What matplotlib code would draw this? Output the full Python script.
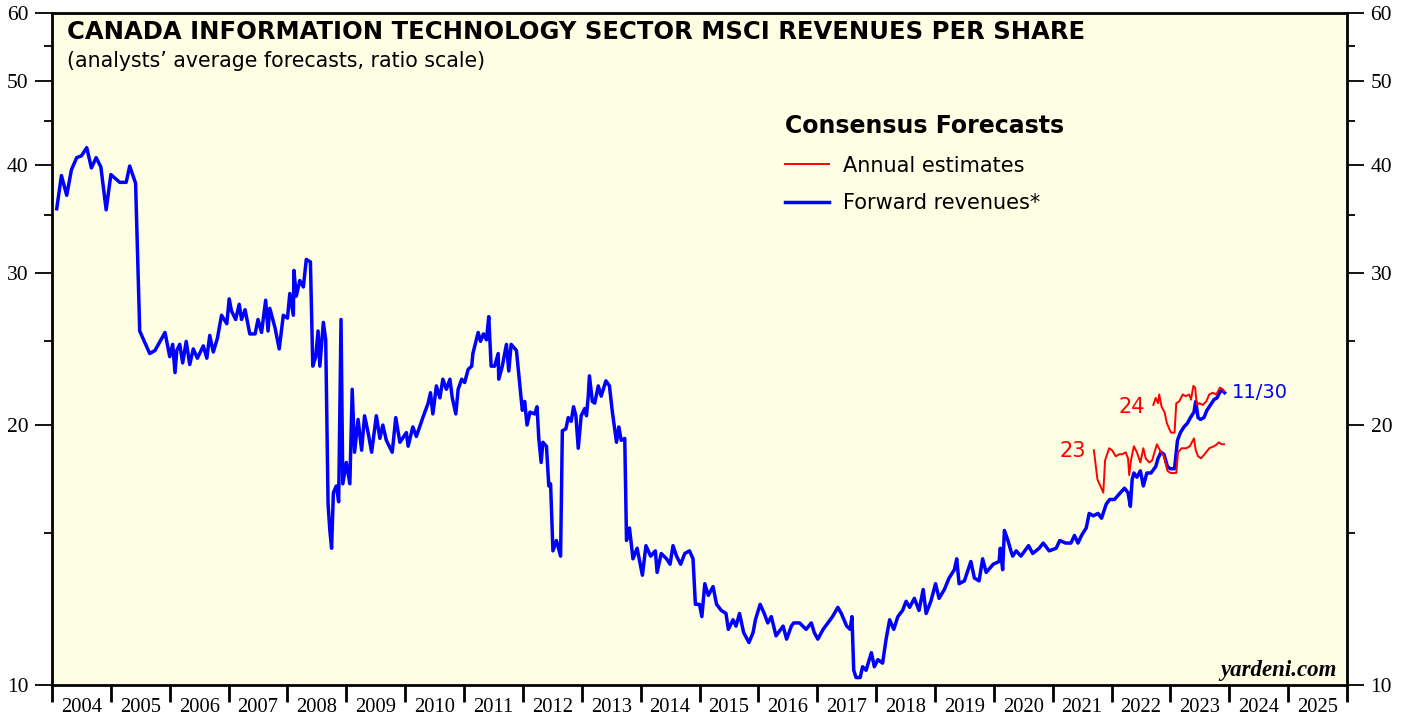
import numpy as np
import matplotlib
matplotlib.use("Agg")
from matplotlib import pyplot as plt
from matplotlib.ticker import FixedLocator, NullFormatter, FixedFormatter

# forward revenues (blue), decimal year / value
fwd_years = [2004.08, 2004.16, 2004.25, 2004.33, 2004.42, 2004.50, 2004.59, 2004.67, 2004.75, 2004.83,
             2004.92, 2005.00, 2005.15, 2005.26, 2005.32, 2005.42, 2005.49, 2005.66, 2005.75, 2005.92,
             2006.00, 2006.05, 2006.09, 2006.12, 2006.17, 2006.22, 2006.28, 2006.34, 2006.40, 2006.47,
             2006.57, 2006.63, 2006.68, 2006.74, 2006.81, 2006.88, 2006.97, 2007.01, 2007.05, 2007.12,
             2007.18, 2007.22, 2007.28, 2007.36, 2007.45, 2007.50, 2007.56, 2007.63, 2007.67, 2007.70,
             2007.79, 2007.86, 2007.93, 2008.00, 2008.04, 2008.10, 2008.11, 2008.15, 2008.21, 2008.27,
             2008.32, 2008.39, 2008.43, 2008.48, 2008.52, 2008.55, 2008.61, 2008.65, 2008.69, 2008.72,
             2008.75, 2008.78, 2008.83, 2008.87, 2008.91, 2008.94, 2009.00, 2009.06, 2009.10, 2009.14,
             2009.20, 2009.26, 2009.31, 2009.37, 2009.43, 2009.51, 2009.57, 2009.62, 2009.68, 2009.78,
             2009.84, 2009.91, 2010.02, 2010.05, 2010.13, 2010.19, 2010.30, 2010.39, 2010.43, 2010.47,
             2010.53, 2010.59, 2010.64, 2010.70, 2010.76, 2010.80, 2010.86, 2010.90, 2010.96, 2011.01,
             2011.07, 2011.13, 2011.15, 2011.24, 2011.28, 2011.33, 2011.38, 2011.42, 2011.46, 2011.52,
             2011.58, 2011.59, 2011.65, 2011.72, 2011.76, 2011.80, 2011.89, 2011.95, 2011.99, 2012.03,
             2012.07, 2012.12, 2012.20, 2012.24, 2012.27, 2012.31, 2012.34, 2012.40, 2012.44, 2012.47,
             2012.51, 2012.57, 2012.64, 2012.67, 2012.73, 2012.77, 2012.82, 2012.86, 2012.90, 2012.94,
             2012.99, 2013.05, 2013.08, 2013.11, 2013.13, 2013.18, 2013.22, 2013.28, 2013.33, 2013.41,
             2013.47, 2013.52, 2013.59, 2013.63, 2013.67, 2013.73, 2013.76, 2013.81, 2013.87, 2013.94,
             2014.03, 2014.09, 2014.17, 2014.25, 2014.28, 2014.35, 2014.44, 2014.50, 2014.55, 2014.61,
             2014.68, 2014.75, 2014.83, 2014.89, 2014.93, 2015.00, 2015.04, 2015.09, 2015.15, 2015.23,
             2015.29, 2015.37, 2015.45, 2015.49, 2015.57, 2015.62, 2015.68, 2015.75, 2015.84, 2015.91,
             2015.95, 2016.03, 2016.10, 2016.16, 2016.22, 2016.30, 2016.42, 2016.48, 2016.56, 2016.60,
             2016.70, 2016.81, 2016.90, 2016.95, 2017.01, 2017.10, 2017.18, 2017.26, 2017.35, 2017.41,
             2017.50, 2017.56, 2017.59, 2017.62, 2017.66, 2017.73, 2017.77, 2017.83, 2017.92, 2017.97,
             2018.03, 2018.11, 2018.17, 2018.23, 2018.30, 2018.37, 2018.45, 2018.51, 2018.57, 2018.65,
             2018.73, 2018.80, 2018.85, 2018.93, 2019.01, 2019.07, 2019.16, 2019.24, 2019.33, 2019.37,
             2019.41, 2019.50, 2019.61, 2019.67, 2019.75, 2019.81, 2019.87, 2019.99, 2020.09, 2020.11,
             2020.15, 2020.18, 2020.24, 2020.29, 2020.32, 2020.38, 2020.46, 2020.59, 2020.66, 2020.77,
             2020.84, 2020.94, 2021.06, 2021.12, 2021.22, 2021.31, 2021.37, 2021.43, 2021.49, 2021.57,
             2021.62, 2021.69, 2021.77, 2021.83, 2021.91, 2021.97, 2022.05, 2022.15, 2022.22, 2022.28,
             2022.32, 2022.35, 2022.38, 2022.43, 2022.49, 2022.54, 2022.60, 2022.67, 2022.75, 2022.79,
             2022.84, 2022.89, 2022.95, 2023.00, 2023.07, 2023.12, 2023.17, 2023.23, 2023.29, 2023.34,
             2023.40, 2023.43, 2023.47, 2023.51, 2023.57, 2023.62, 2023.68, 2023.74, 2023.79, 2023.85,
             2023.89, 2023.92]
fwd_vals = [35.6, 38.9, 36.9, 39.5, 40.8, 41.0, 41.9, 39.7, 40.8, 39.8,
            35.5, 39.0, 38.2, 38.2, 39.9, 38.1, 25.7, 24.2, 24.4, 25.6,
            24.0, 24.8, 23.0, 24.4, 24.8, 23.6, 25.0, 23.5, 24.5, 23.9,
            24.7, 23.9, 25.4, 24.3, 25.2, 26.8, 26.2, 28.0, 27.1, 26.5,
            27.6, 26.5, 27.2, 25.5, 25.5, 26.5, 25.6, 27.9, 25.7, 27.3,
            25.9, 24.5, 26.8, 26.6, 28.4, 26.8, 30.2, 28.2, 29.4, 28.9,
            31.1, 30.9, 23.4, 24.0, 25.7, 23.4, 26.3, 25.1, 16.2, 15.1,
            14.4, 16.7, 17.0, 16.3, 26.5, 17.1, 18.1, 17.1, 22.0, 18.6,
            20.3, 18.7, 20.5, 19.6, 18.6, 20.5, 19.3, 20.0, 19.2, 18.6,
            20.4, 19.1, 19.6, 18.9, 19.9, 19.4, 20.4, 21.2, 21.8, 20.6,
            22.2, 21.5, 22.6, 22.0, 22.6, 21.5, 20.6, 22.0, 22.6, 22.4,
            23.2, 23.4, 24.2, 25.6, 25.0, 25.5, 25.1, 26.7, 23.4, 23.4,
            24.2, 22.6, 23.4, 24.8, 23.1, 24.8, 24.4, 22.2, 20.8, 21.3,
            20.0, 20.7, 20.6, 21.0, 19.3, 18.1, 19.1, 18.9, 17.0, 17.1,
            14.3, 14.7, 14.1, 19.7, 19.8, 20.4, 20.2, 21.0, 20.5, 18.8,
            20.5, 20.9, 20.5, 21.6, 22.8, 21.3, 21.2, 22.2, 21.6, 22.5,
            22.2, 20.7, 19.1, 19.9, 19.2, 19.3, 14.7, 15.2, 14.0, 14.4,
            13.4, 14.5, 14.1, 14.3, 13.5, 14.2, 14.0, 13.8, 14.5, 14.1,
            13.8, 14.2, 14.3, 14.0, 12.4, 12.4, 12.0, 13.1, 12.7, 13.0,
            12.4, 12.2, 12.1, 11.6, 11.9, 11.7, 12.1, 11.5, 11.2, 11.5,
            11.9, 12.4, 12.1, 11.8, 12.0, 11.4, 11.7, 11.3, 11.7, 11.8,
            11.8, 11.6, 11.8, 11.5, 11.3, 11.6, 11.8, 12.0, 12.3, 12.1,
            11.7, 11.6, 12.0, 10.4, 10.2, 10.2, 10.5, 10.4, 10.9, 10.5,
            10.7, 10.6, 11.3, 11.9, 11.6, 12.0, 12.2, 12.5, 12.3, 12.6,
            12.2, 12.9, 12.1, 12.5, 13.1, 12.6, 12.9, 13.3, 13.6, 14.0,
            13.1, 13.2, 13.9, 13.3, 13.2, 14.0, 13.5, 13.8, 13.9, 14.4,
            13.6, 15.1, 14.7, 14.3, 14.1, 14.3, 14.1, 14.5, 14.2, 14.4,
            14.6, 14.3, 14.4, 14.7, 14.6, 14.6, 14.9, 14.6, 14.9, 15.2,
            15.8, 15.7, 15.8, 15.6, 16.2, 16.4, 16.4, 16.7, 16.9, 16.7,
            16.1, 17.3, 17.6, 17.4, 17.7, 17.0, 17.6, 17.6, 17.9, 18.3,
            18.6, 18.5, 17.9, 17.8, 17.8, 19.2, 19.6, 19.9, 20.1, 20.4,
            20.7, 21.3, 20.4, 20.3, 20.4, 20.8, 21.1, 21.4, 21.5, 21.9,
            21.9, 21.8]

# annual estimates (red) for 2023 and 2024
y23_years = [2021.70, 2021.76, 2021.81, 2021.86, 2021.89, 2021.96, 2022.01, 2022.07, 2022.13, 2022.18,
             2022.24, 2022.28, 2022.30, 2022.33, 2022.38, 2022.43, 2022.49, 2022.54, 2022.58, 2022.64,
             2022.69, 2022.77, 2022.84, 2022.89, 2022.95, 2023.00, 2023.05, 2023.10, 2023.13, 2023.19,
             2023.27, 2023.33, 2023.40, 2023.43, 2023.47, 2023.52, 2023.58, 2023.66, 2023.74, 2023.79,
             2023.82, 2023.87, 2023.91]
y23_vals = [18.7, 17.3, 17.0, 16.7, 18.2, 18.8, 18.7, 18.4, 18.5, 18.5,
            18.6, 18.3, 17.5, 18.2, 18.9, 18.6, 18.1, 18.8, 18.3, 18.1,
            18.2, 19.0, 18.6, 18.4, 17.7, 17.6, 17.6, 17.6, 18.6, 18.8,
            18.8, 18.9, 19.3, 18.7, 18.4, 18.3, 18.5, 18.8, 18.9, 19.0,
            19.1, 19.0, 19.0]
y24_years = [2022.71, 2022.75, 2022.79, 2022.81, 2022.85, 2022.90, 2022.94, 2022.98, 2023.01, 2023.07,
             2023.10, 2023.15, 2023.21, 2023.26, 2023.32, 2023.35, 2023.39, 2023.42, 2023.45, 2023.49,
             2023.55, 2023.61, 2023.66, 2023.72, 2023.78, 2023.84, 2023.89, 2023.91]
y24_vals = [21.1, 21.5, 21.2, 21.7, 21.0, 20.7, 20.1, 19.8, 19.6, 19.6,
            21.2, 21.3, 21.7, 21.6, 21.7, 21.4, 22.2, 22.1, 21.1, 21.2,
            21.1, 21.3, 21.7, 21.8, 21.7, 22.1, 22.0, 21.9]

years = list(range(2004, 2026))
y_major = [10, 20, 30, 40, 50, 60]
y_minor = [15, 25, 35, 45, 55]

fig = plt.figure(figsize=(14.07, 7.17), dpi=100)
ax = fig.add_axes([52/1407, 1-685/717, 1295/1407, 672/717])
ax.set_facecolor('#fefee4')

ax.plot(y23_years, y23_vals, color='#ff0000', lw=1.4, zorder=3)
ax.plot(y24_years, y24_vals, color='#ff0000', lw=1.4, zorder=3)
ax.plot(fwd_years, fwd_vals, color='#0000ff', lw=2.5, zorder=2)

ax.set_yscale('log')
ax.set_ylim(10, 60)
ax.set_xlim(2004, 2026)

serif = 'Liberation Serif'
ax.yaxis.set_major_locator(FixedLocator(y_major))
ax.yaxis.set_minor_locator(FixedLocator(y_minor))
ax.yaxis.set_major_formatter(FixedFormatter([str(v) for v in y_major]))
ax.yaxis.set_minor_formatter(NullFormatter())
ax.tick_params(axis='y', which='major', length=12, width=1.3, direction='out',
               left=True, right=True, labelleft=True, labelright=True, pad=5, labelsize=15.5)
ax.tick_params(axis='y', which='minor', length=6, width=1.3, direction='out', left=True, right=True)

ax.set_xticks(list(range(2004, 2027)))
ax.set_xticklabels([])
ax.set_xticks([y + 0.5 for y in years], minor=True)
ax.set_xticklabels([str(y) for y in years], minor=True)
ax.tick_params(axis='x', which='major', length=12, width=2, direction='out')
ax.tick_params(axis='x', which='minor', length=0, pad=9, labelsize=14.8)
for lab in ax.get_xticklabels(minor=True) + ax.get_yticklabels():
    lab.set_family(serif)

for s in ax.spines.values():
    s.set_linewidth(2)

ax.text(0.0116, 0.972, 'CANADA INFORMATION TECHNOLOGY SECTOR MSCI REVENUES PER SHARE',
        transform=ax.transAxes, fontsize=17.5, fontweight='bold', va='center', ha='left')
ax.text(0.0116, 0.929, '(analysts\u2019 average forecasts, ratio scale)',
        transform=ax.transAxes, fontsize=14.8, va='center', ha='left')

ax.text(2021.57, 18.65, '23', color='#ff0000', fontsize=15, ha='right', va='center')
ax.text(2022.56, 21.0, '24', color='#ff0000', fontsize=15, ha='right', va='center')
ax.text(2024.05, 21.8, '11/30', color='#0000ff', fontsize=14, ha='left', va='center')

ax.text(0.992, 0.022, 'yardeni.com', transform=ax.transAxes, family=serif,
        fontsize=16.5, fontweight='bold', style='italic', ha='right', va='center')

h1, = ax.plot([], [], color='#ff0000', lw=1.4)
h2, = ax.plot([], [], color='#0000ff', lw=2.5)
leg = ax.legend([h1, h2], ['Annual estimates', 'Forward revenues*'], title='Consensus Forecasts',
                loc='upper left', bbox_to_anchor=(0.566, 0.85), frameon=False, fontsize=15,
                handlelength=2.1, handletextpad=0.7, labelspacing=0.85, borderpad=0,
                borderaxespad=0, alignment='left',
                title_fontproperties={'weight': 'bold', 'size': 17})

fig.savefig('out.png', dpi=100)
